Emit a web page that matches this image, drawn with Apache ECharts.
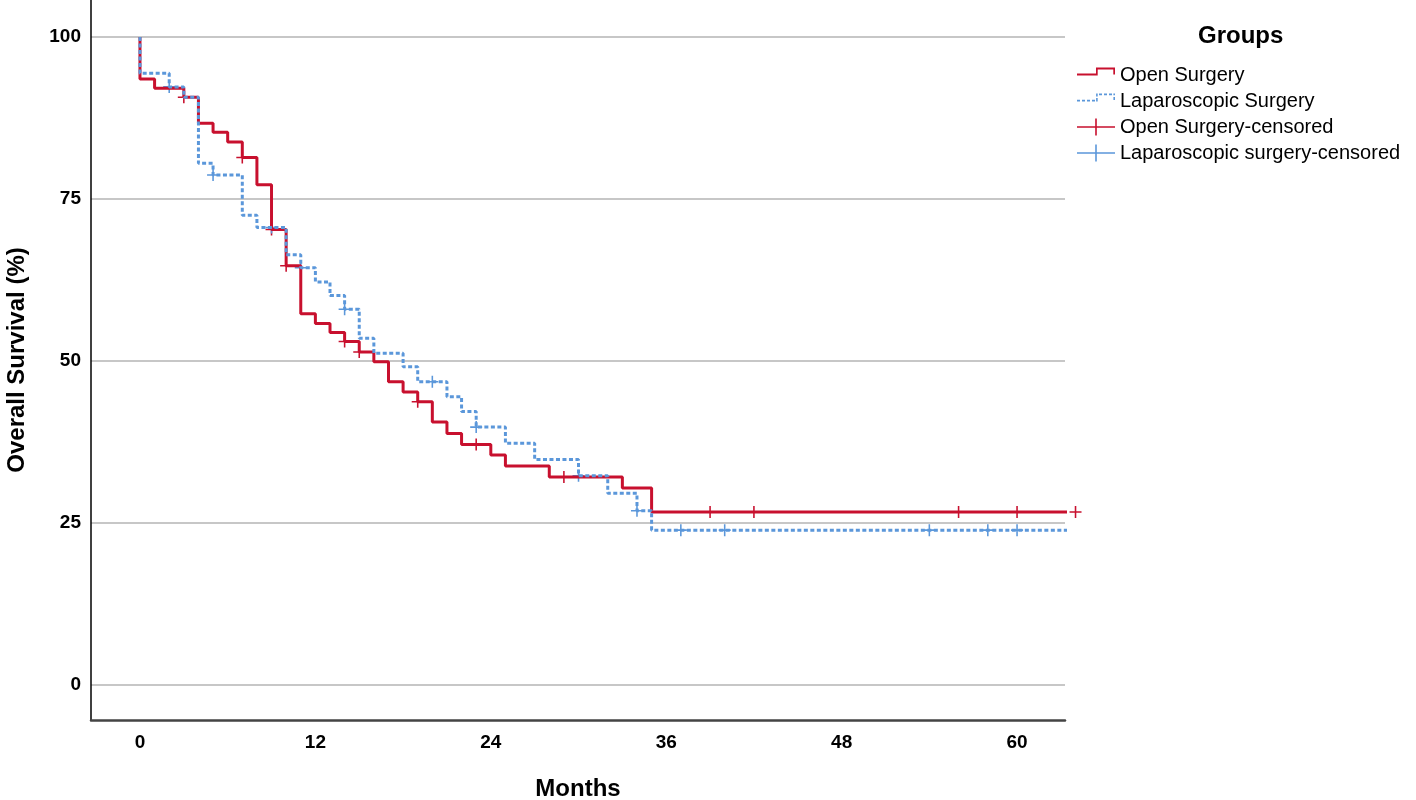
<!DOCTYPE html>
<html><head><meta charset="utf-8">
<script src="https://cdn.jsdelivr.net/npm/echarts@6/dist/echarts.min.js"></script>
<style>html,body{margin:0;padding:0;background:#fff}#c{width:1416px;height:800px}</style>
</head><body><div id="c"></div>
<script>
// ---- data ----
const xTicks = [0, 12, 24, 36, 48, 60];
const yTicks = [0, 25, 50, 75, 100];
const openTimes = [0, 0, 1, 3, 4, 5, 6, 7, 8, 9, 10, 11, 12, 13, 14, 15, 16, 17, 18, 19, 20, 21, 22, 24, 25, 28, 33, 35, 64];
const openSurv  = [100, 93.5, 92.1, 90.7, 86.7, 85.3, 83.8, 81.4, 77.2, 70.3, 64.7, 57.3, 55.8, 54.4, 53.0, 51.4, 49.9, 46.8, 45.2, 43.7, 40.6, 38.8, 37.1, 35.5, 33.8, 32.1, 30.4, 26.7, 26.7];
const lapTimes  = [0, 0, 2, 3, 4, 5, 7, 8, 10, 11, 12, 13, 14, 15, 16, 18, 19, 21, 22, 23, 25, 27, 30, 32, 34, 35, 64];
const lapSurv   = [100, 94.4, 92.3, 90.7, 80.5, 78.7, 72.5, 70.6, 66.4, 64.4, 62.2, 60.1, 58.0, 53.5, 51.2, 49.1, 46.8, 44.5, 42.2, 39.8, 37.3, 34.8, 32.3, 29.6, 26.9, 23.9, 23.9];
const openCensTimes = [3, 7, 9, 10, 14, 15, 19, 23, 29, 39, 42, 56, 60, 64];
const openCensSurv  = [90.7, 81.4, 70.3, 64.7, 53.0, 51.4, 43.7, 37.1, 32.1, 26.7, 26.7, 26.7, 26.7, 26.7];
const lapCensTimes  = [2, 5, 9, 11, 14, 20, 23, 30, 34, 37, 40, 54, 58, 60];
const lapCensSurv   = [92.3, 78.7, 70.6, 64.4, 58.0, 46.8, 39.8, 32.3, 26.9, 23.9, 23.9, 23.9, 23.9, 23.9];
const seriesNames = ['Open Surgery', 'Laparoscopic Surgery', 'Open Surgery-censored', 'Laparoscopic surgery-censored'];

// ---- styling ----
const FONT = "'Liberation Sans', Arial, Helvetica, sans-serif";
const RED = '#c8102e';
const BLUE = '#5b97da';
const zip = (a, b) => a.map((v, i) => [v, b[i]]);

function rect(x0, y0, x1, y1) { return `M${x0},${y0}L${x1},${y0}L${x1},${y1}L${x0},${y1}Z`; }
const BOUNDS = 'M0,0L0.001,0L0,0.001Z M38,17L37.999,17L38,16.999Z ';
const stepIcon = 'path://' + BOUNDS + 'M0,7.1L19,7.1L19,1.1L38,1.1L38,8L36.3,8L36.3,2.9L20.7,2.9L20.7,8.9L0,8.9Z';
const dashIcon = 'path://' + BOUNDS + [
  rect(0, 7.3, 3, 8.9), rect(5, 7.3, 8, 8.9), rect(10, 7.3, 13, 8.9), rect(15, 7.3, 18, 8.9),
  rect(19.1, 1.1, 20.7, 4), rect(19.1, 5.6, 20.7, 8.9),
  rect(22, 1.1, 25, 2.7), rect(27, 1.1, 30, 2.7), rect(32, 1.1, 35, 2.7),
  rect(36.4, 1.1, 38, 2.7), rect(36.4, 4.4, 38, 7.4)
].join(' ');
const crossIcon = 'path://M0,7.7L18.2,7.7L18.2,0L19.8,0L19.8,7.7L38,7.7L38,9.3L19.8,9.3L19.8,17L18.2,17L18.2,9.3L0,9.3Z';
const plusSym = 'path://M4.35,0L5.65,0L5.65,4.35L10,4.35L10,5.65L5.65,5.65L5.65,10L4.35,10L4.35,5.65L0,5.65L0,4.35L4.35,4.35Z';

const chart = echarts.init(document.getElementById('c'), null, { renderer: 'canvas' });
chart.setOption({
  backgroundColor: '#fff',
  animation: false,
  textStyle: { fontFamily: FONT },
  title: {
    text: 'Groups', left: 1198, top: 24, padding: 0,
    textStyle: { fontSize: 24, fontWeight: 'bold', color: '#000', fontFamily: FONT }
  },
  legend: {
    orient: 'vertical', left: 1077, top: 65, padding: 0,
    itemWidth: 38, itemHeight: 17, itemGap: 6,
    itemStyle: { borderWidth: 0 },
    textStyle: { fontSize: 20, color: '#000', fontFamily: FONT },
    data: [
      { name: seriesNames[0], icon: stepIcon },
      { name: seriesNames[1], icon: dashIcon },
      { name: seriesNames[2], icon: crossIcon },
      { name: seriesNames[3], icon: crossIcon }
    ]
  },
  grid: { left: 91, right: 351, top: 0, bottom: 80, containLabel: false, outerBoundsMode: 'none' },
  xAxis: {
    type: 'value', min: -3.35, max: 63.28,
    name: 'Months', nameLocation: 'middle', nameGap: 57,
    nameTextStyle: { fontSize: 24, fontWeight: 'bold', color: '#000', fontFamily: FONT },
    axisLine: { show: true, onZero: false, lineStyle: { color: '#444', width: 2.5 } },
    axisTick: { show: false, customValues: xTicks },
    axisLabel: { customValues: xTicks, margin: 13, fontSize: 19, fontWeight: 'bold', color: '#000', fontFamily: FONT },
    splitLine: { show: false }
  },
  yAxis: {
    type: 'value', min: -5.4, max: 105.71,
    name: 'Overall Survival (%)', nameLocation: 'middle', nameGap: 62,
    nameTextStyle: { fontSize: 24, fontWeight: 'bold', color: '#000', fontFamily: FONT },
    axisLine: { show: true, onZero: false, lineStyle: { color: '#000', width: 1.5 } },
    axisTick: { show: false, customValues: yTicks },
    axisLabel: { customValues: yTicks, margin: 10, fontSize: 19, fontWeight: 'bold', color: '#000', fontFamily: FONT },
    splitLine: { show: true, lineStyle: { color: '#b4b4b4', width: 1.5 } }
  },
  series: [
    {
      name: seriesNames[0], type: 'line', step: 'end', data: zip(openTimes, openSurv),
      showSymbol: false, symbol: 'none', color: RED,
      lineStyle: { color: RED, width: 3 }
    },
    {
      name: seriesNames[1], type: 'line', step: 'end', data: zip(lapTimes, lapSurv),
      showSymbol: false, symbol: 'none', color: BLUE,
      lineStyle: { color: BLUE, width: 3, type: [4, 2.5] }
    },
    {
      name: seriesNames[2], type: 'scatter', data: zip(openCensTimes, openCensSurv),
      symbol: plusSym, symbolSize: 12, clip: false, color: RED,
      itemStyle: { color: RED, opacity: 1 }
    },
    {
      name: seriesNames[3], type: 'scatter', data: zip(lapCensTimes, lapCensSurv),
      symbol: plusSym, symbolSize: 12, clip: false, color: BLUE,
      itemStyle: { color: BLUE, opacity: 1 }
    }
  ]
});
</script>
</body></html>
